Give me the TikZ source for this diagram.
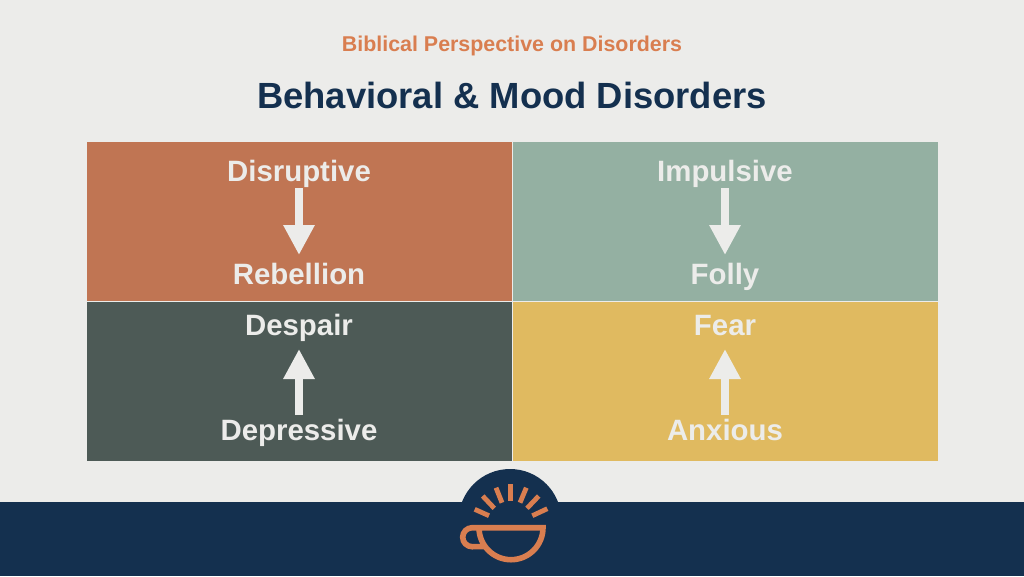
\documentclass[tikz,border=0pt]{standalone}
\usepackage{fontspec}
\setmainfont{Liberation Sans}
\usetikzlibrary{arrows.meta, positioning}
\definecolor{paper}{HTML}{ECECEA}
\definecolor{navy}{HTML}{14304F}
\definecolor{clay}{HTML}{C07553}
\definecolor{sage}{HTML}{94B0A2}
\definecolor{slate}{HTML}{4D5A56}
\definecolor{honey}{HTML}{E0BA60}
\definecolor{ember}{HTML}{D97E50}
\begin{document}
\begin{tikzpicture}[x=1pt, y=-1pt,
	quad/.style={rectangle, minimum width=425pt, minimum height=158.5pt, inner sep=0pt, outer sep=0pt},
	word/.style={anchor=base, inner sep=0pt, outer sep=0pt, text height=21pt, text depth=7pt, text=paper, font=\bfseries\fontsize{29.4}{31}\selectfont},
	flow/.style={draw=paper, line width=7.5pt, -{Triangle[width=29.5pt, length=30pt]}},
	beam/.style={draw=ember, line width=4.8pt},
	cup/.style={draw=ember, line width=5.6pt}]
	\fill[paper] (0,0) rectangle (1024,576);
	
	\node[anchor=base, inner sep=0pt, text=ember, font=\bfseries\fontsize{21.4}{23}\selectfont] (kicker) at (512,51) {Biblical Perspective on Disorders};
	\node[anchor=base, inner sep=0pt, text=navy, font=\bfseries\fontsize{36.4}{40}\selectfont] (heading) at (512,108) {Behavioral \& Mood Disorders};
	
	\node[quad, fill=clay] (topleft) at (299,221.5) {};
	\node[quad, fill=sage] (topright) at (725,221.5) {};
	\node[quad, fill=slate] (bottomleft) at (299,381.5) {};
	\node[quad, fill=honey] (bottomright) at (725,381.5) {};
	
	\node[word] (disruptive) at (299,181) {Disruptive};
	\node[word] (rebellion) at (299,284) {Rebellion};
	\node[word] (impulsive) at (725,181) {Impulsive};
	\node[word] (folly) at (725,284) {Folly};
	\node[word] (despair) at (299,335) {Despair};
	\node[word] (depressive) at (299,440) {Depressive};
	\node[word] (fear) at (725,335) {Fear};
	\node[word] (anxious) at (725,440) {Anxious};
	
	\path[flow, shorten >=8pt]	(disruptive.south) -- (rebellion.north);
	\path[flow, shorten >=8pt]	(impulsive.south) -- (folly.north);
	\path[flow, shorten <=4pt, shorten >=7pt]	(depressive.north) -- (despair.south);
	\path[flow, shorten <=4pt, shorten >=7pt]	(anxious.north) -- (fear.south);
	
	% footer and logo
	\fill[navy] (0,502) rectangle (1024,576);
	\fill[navy] (510,520.4) circle (51.4);
	\foreach \xa/\ya/\xb/\yb in {474.7/509.3/489/515.7, 482.7/496/494.3/508.3, 496/487.7/502/502.7, 510.7/484/510.7/500.7, 526.3/487.7/520/502.7, 538.7/496/527/508.3, 547.3/508.7/532.3/515.7}
		\draw[beam] (\xa,\ya) -- (\xb,\yb);
	\draw[cup] (485,546.5) -- (472.2,546.7) arc[start angle=90, end angle=270, radius=9.5] -- (543,527.7) arc[start angle=0, end angle=180, radius=32];
\end{tikzpicture}
\end{document}
